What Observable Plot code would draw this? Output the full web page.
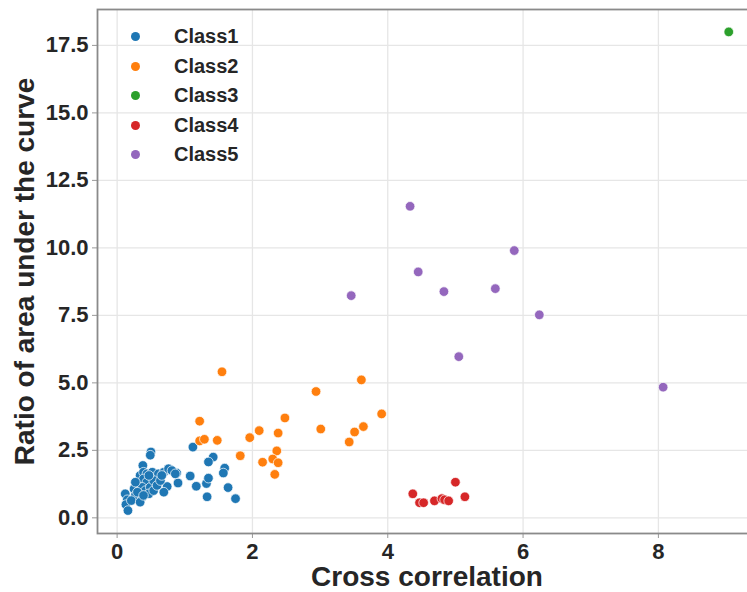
<!DOCTYPE html>
<html>
<head>
<meta charset="utf-8">
<script src="https://cdn.jsdelivr.net/npm/d3@7"></script>
<script src="https://cdn.jsdelivr.net/npm/@observablehq/plot@0.6"></script>
<style>
  html, body { margin: 0; padding: 0; background: #fff; overflow: hidden; }
  #wrap { position: relative; width: 747px; height: 592px; overflow: hidden; font-family: "Liberation Sans", Arial, sans-serif; }
  #wrap svg { max-width: none !important; }
  #legend { position: absolute; left: 126px; top: 22px; }
  .item { display: flex; align-items: center; height: 29.5px; }
  .sw { width: 9px; height: 9px; border-radius: 50%; margin-left: 5px; margin-right: 34px; }
  .lab { font-size: 20px; font-weight: bold; color: #262626; }
</style>
</head>
<body>
<div id="wrap"><div id="legend"></div></div>
<script>
const classNames = ["Class1", "Class2", "Class3", "Class4", "Class5"];
const classColors = ["#1f77b4", "#ff7f0e", "#2ca02c", "#d62728", "#9467bd"];

const class1 = [
  [0.50,2.44],[0.49,2.32],[1.12,2.62],[1.42,2.25],[1.35,2.07],[1.59,1.84],[1.57,1.66],
  [1.32,1.27],[1.35,1.47],[1.17,1.17],[1.64,1.12],[0.74,1.16],[1.33,0.78],[1.75,0.71],
  [0.88,1.66],[0.90,1.29],[1.08,1.55],[0.38,1.94],
  [0.12,0.89],[0.15,0.67],[0.13,0.49],[0.16,0.27],[0.25,1.07],[0.27,0.83],[0.21,0.64],
  [0.32,1.26],[0.37,0.76],[0.34,1.57],[0.39,1.69],[0.44,1.63],[0.52,1.69],[0.61,1.63],
  [0.69,1.69],[0.76,1.82],[0.81,1.75],[0.86,1.63],[0.39,1.44],[0.44,1.32],[0.37,1.13],
  [0.42,1.01],[0.49,1.13],[0.54,1.38],[0.47,0.89],[0.54,1.01],[0.59,1.20],[0.64,1.38],
  [0.69,0.95],[0.30,0.95],[0.27,1.32],[0.34,0.58],[0.39,0.83],[0.66,1.57],[0.47,1.57]
];
const class2 = [
  [1.55,5.41],[3.61,5.11],[2.94,4.68],[3.91,3.85],[1.22,3.58],[2.48,3.70],[3.01,3.29],
  [3.64,3.38],[3.51,3.18],[3.43,2.81],[2.10,3.23],[2.38,3.14],[1.96,2.97],[1.22,2.85],
  [1.29,2.91],[1.48,2.87],[1.82,2.30],[2.36,2.48],[2.30,2.18],[2.38,2.04],[2.15,2.06],[2.33,1.61]
];
const class3 = [[9.04,18.0]];
const class4 = [
  [4.37,0.89],[4.47,0.56],[4.53,0.56],[4.69,0.63],[4.80,0.71],[4.84,0.67],[4.90,0.63],[5.00,1.32],[5.14,0.78]
];
const class5 = [
  [4.33,11.54],[5.87,9.90],[4.45,9.11],[3.46,8.23],[4.83,8.38],[5.59,8.49],[6.24,7.52],[5.05,5.97],[8.07,4.84]
];
const xTicks = [0, 2, 4, 6, 8];
const yTicks = [0, 2.5, 5, 7.5, 10, 12.5, 15, 17.5];
const xLabel = "Cross correlation";
const yLabel = "Ratio of area under the curve";

const groups = [class1, class2, class3, class4, class5];
const data = groups.flatMap((g, i) => g.map(([x, y]) => ({x, y, cls: classNames[i]})));

const font = "'Liberation Sans', Arial, sans-serif";
const chart = Plot.plot({
  width: 760,
  height: 592,
  marginLeft: 97,
  marginRight: 4,
  marginTop: 9,
  marginBottom: 59,
  style: {fontFamily: font, color: "#262626", background: "#fff", maxWidth: "none"},
  x: {domain: [-0.29, 9.45]},
  y: {domain: [-0.58, 18.83]},
  color: {domain: classNames, range: classColors},
  marks: [
    Plot.gridX(xTicks, {stroke: "#e6e6e6", strokeOpacity: 1, strokeWidth: 1.3}),
    Plot.gridY(yTicks, {stroke: "#e6e6e6", strokeOpacity: 1, strokeWidth: 1.3}),
    Plot.axisX(xTicks, {tickSize: 5, tickPadding: 5, stroke: "#999", fontSize: 22, fontWeight: "bold", fill: "#262626", label: null}),
    Plot.axisY(yTicks, {tickSize: 5, tickPadding: 4, stroke: "#999", fontSize: 22, fontWeight: "bold", fill: "#262626", tickFormat: d3.format(".1f"), label: null}),
    Plot.frame({stroke: "#8a8a8a", strokeWidth: 1.8}),
    Plot.dot(data, {x: "x", y: "y", fill: "cls", r: 4.8, stroke: "white", strokeWidth: 0.7}),
    Plot.text([xLabel], {frameAnchor: "bottom", textAnchor: "middle", lineAnchor: "middle", dy: 44, fontSize: 28, fontWeight: "bold", fill: "#262626"}),
    Plot.text([yLabel], {frameAnchor: "left", textAnchor: "middle", lineAnchor: "middle", dx: -72, rotate: -90, fontSize: 28, fontWeight: "bold", fill: "#262626"})
  ]
});
const wrap = document.getElementById("wrap");
wrap.insertBefore(chart, wrap.firstChild);

const legend = document.getElementById("legend");
classNames.forEach((name, i) => {
  const item = document.createElement("div");
  item.className = "item";
  const sw = document.createElement("span");
  sw.className = "sw";
  sw.style.background = classColors[i];
  const lab = document.createElement("span");
  lab.className = "lab";
  lab.textContent = name;
  item.appendChild(sw);
  item.appendChild(lab);
  legend.appendChild(item);
});
</script>
</body>
</html>
